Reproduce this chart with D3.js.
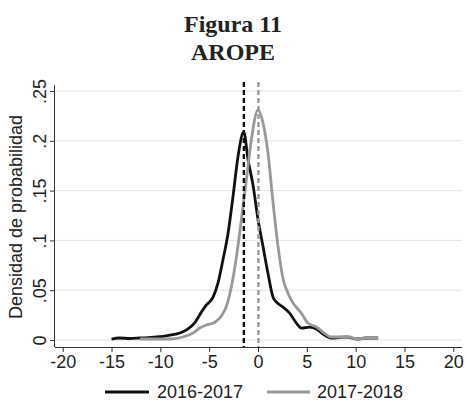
<!DOCTYPE html>
<html>
<head>
<meta charset="utf-8">
<script src="https://cdn.jsdelivr.net/npm/d3@7"></script>
<style>
  body { margin: 0; background: #fff; }
  svg { display: block; }
</style>
</head>
<body>
<svg id="chart" width="466" height="403"></svg>
<script>
"use strict";

// densidad 2016-2017 (x, densidad)
var x2016 = [-15, -14.2, -13.1, -12.1, -10.4, -9.0, -8.0, -7.2, -6.5, -5.8, -5.3, -4.6, -4.1, -3.6, -3.07, -2.56, -2.05, -1.46, -1.02, -0.5, 0, 0.51, 1.02, 1.54, 1.9, 2.56, 3.24, 3.93, 4.44, 5.3, 6.0, 6.65, 7.5, 9.05, 10.1, 11.1, 12.3];
var y2016 = [0.001, 0.002, 0.0015, 0.002, 0.003, 0.005, 0.007, 0.011, 0.017, 0.028, 0.035, 0.043, 0.057, 0.080, 0.107, 0.144, 0.184, 0.209, 0.181, 0.155, 0.121, 0.094, 0.067, 0.043, 0.038, 0.033, 0.027, 0.017, 0.012, 0.013, 0.011, 0.006, 0.002, 0.003, 0.001, 0.002, 0.002];

// densidad 2017-2018
var x2017 = [-12.1, -10.4, -9.0, -7.7, -6.65, -5.97, -5.3, -4.4, -3.75, -3.23, -2.72, -2.2, -1.7, -1.19, -0.68, 0, 0.51, 1.02, 1.54, 2.05, 2.6, 3.07, 3.6, 4.44, 5.1, 6.0, 6.65, 7.5, 8.4, 9.4, 10.1, 11.1, 12.3];
var y2017 = [0.001, 0.001, 0.001, 0.003, 0.007, 0.012, 0.015, 0.018, 0.024, 0.034, 0.054, 0.084, 0.121, 0.161, 0.201, 0.231, 0.218, 0.188, 0.138, 0.094, 0.060, 0.047, 0.037, 0.027, 0.017, 0.013, 0.008, 0.003, 0.003, 0.003, 0.001, 0.002, 0.002];

var medias = [-1.45, 0.05];
var series = ["2016-2017", "2017-2018"];
var colores = ["#111111", "#999999"];

var xTicks = [-20, -15, -10, -5, 0, 5, 10, 15, 20];
var yTicks = [0, 0.05, 0.1, 0.15, 0.2, 0.25];
var yTickLabels = ["0", ".05", ".1", ".15", ".2", ".25"];

var svg = d3.select("#chart");
var sans = "'Liberation Sans', Arial, sans-serif";

var x = d3.scaleLinear().domain([-20, 20]).range([62.7, 453.3]);
var y = d3.scaleLinear().domain([0, 0.25]).range([340, 91]);

var plotLeft = 55, plotRight = 462, plotTop = 85, plotBottom = 347;

// titulos
svg.append("text")
    .attr("x", 233).attr("y", 32)
    .attr("text-anchor", "middle")
    .style("font-family", "'Liberation Serif', serif")
    .style("font-weight", "bold")
    .style("font-size", "24px")
    .style("fill", "#222")
    .text("Figura 11");

svg.append("text")
    .attr("x", 233).attr("y", 60)
    .attr("text-anchor", "middle")
    .style("font-family", "'Liberation Serif', serif")
    .style("font-weight", "bold")
    .style("font-size", "24px")
    .style("fill", "#222")
    .text("AROPE");

// rejilla
svg.append("g")
    .selectAll("line")
    .data(yTicks)
    .enter()
    .append("line")
    .attr("x1", plotLeft).attr("x2", plotRight)
    .attr("y1", function(d){return y(d);})
    .attr("y2", function(d){return y(d);})
    .style("stroke", "#e3e3e3")
    .style("stroke-width", 1);

// ejes
var xAxis = d3.axisBottom(x).tickValues(xTicks).tickSize(5).tickSizeOuter(0)
    .tickFormat(function(d){return d;});
var gx = svg.append("g")
    .attr("transform", "translate(0," + plotBottom + ")")
    .call(xAxis);
gx.select(".domain").attr("d", "M" + plotLeft + ",0.5H" + plotRight).style("stroke", "#333");
gx.selectAll(".tick line").style("stroke", "#333");
gx.selectAll(".tick text")
    .attr("y", 21).attr("dy", null)
    .style("font-family", sans)
    .style("font-size", "18px")
    .style("fill", "#222");

var yAxis = d3.axisLeft(y).tickValues(yTicks).tickSize(5).tickSizeOuter(0)
    .tickFormat(function(d, i){return yTickLabels[i];});
var gy = svg.append("g")
    .attr("transform", "translate(" + plotLeft + ",0)")
    .call(yAxis);
gy.select(".domain").attr("d", "M-0.5," + plotTop + "V" + plotBottom).style("stroke", "#333");
gy.selectAll(".tick line").style("stroke", "#333");
gy.selectAll(".tick text")
    .attr("x", null).attr("dy", null)
    .attr("transform", "translate(-9,0) rotate(-90)")
    .attr("text-anchor", "middle")
    .style("font-family", sans)
    .style("font-size", "18px")
    .style("fill", "#222");

svg.append("text")
    .attr("transform", "translate(22,217) rotate(-90)")
    .attr("text-anchor", "middle")
    .style("font-family", sans)
    .style("font-size", "18px")
    .style("fill", "#222")
    .text("Densidad de probabilidad");

// curvas
var line = d3.line()
    .x(function(d){return x(d[0]);})
    .y(function(d){return y(d[1]);})
    .curve(d3.curveMonotoneX);

var datos = [d3.zip(x2016, y2016), d3.zip(x2017, y2017)];

svg.append("g")
    .selectAll("path")
    .data(datos)
    .enter()
    .append("path")
    .attr("d", line)
    .style("fill", "none")
    .style("stroke", function(d, i){return colores[i];})
    .style("stroke-width", 2.8)
    .style("stroke-linejoin", "round");

// medias
svg.append("g")
    .selectAll("line")
    .data(medias)
    .enter()
    .append("line")
    .attr("x1", function(d){return x(d);})
    .attr("x2", function(d){return x(d);})
    .attr("y1", plotTop - 3).attr("y2", plotBottom)
    .style("stroke", function(d, i){return colores[i];})
    .style("stroke-width", 2.4)
    .style("stroke-dasharray", "5,3");

// leyenda
var legX = [105, 267];
var leg = svg.append("g")
    .selectAll("g")
    .data(series)
    .enter()
    .append("g")
    .attr("transform", function(d, i){return "translate(" + legX[i] + ",392)";});

leg.append("line")
    .attr("x1", 0).attr("x2", function(d, i){return i ? 43 : 44;})
    .style("stroke", function(d, i){return colores[i];})
    .style("stroke-width", 2.8);

leg.append("text")
    .attr("x", function(d, i){return i ? 50 : 52;}).attr("y", 6)
    .style("font-family", sans)
    .style("font-size", "18px")
    .style("fill", "#222")
    .text(function(d){return d;});
</script>
</body>
</html>
